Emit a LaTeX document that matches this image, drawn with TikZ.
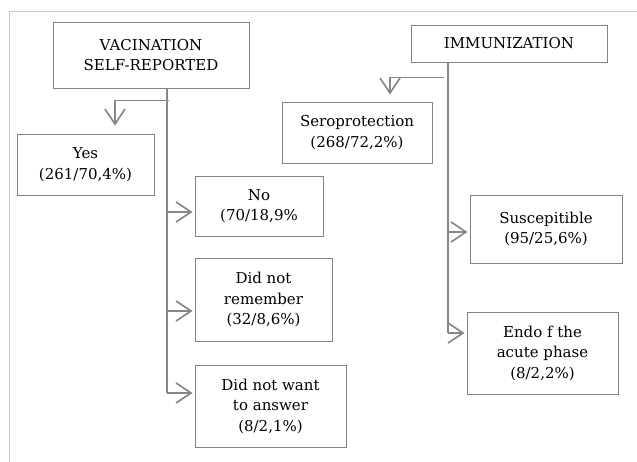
\documentclass[tikz,border=0pt]{standalone}
\usepackage{fontspec}
\setmainfont{DejaVu Serif}
\usepackage{tikz}
\usetikzlibrary{positioning,arrows.meta}

\definecolor{boxgray}{HTML}{828282}
\definecolor{linegray}{HTML}{878787}
\definecolor{framegray}{HTML}{C8C8C8}

\begin{document}
\begin{tikzpicture}[
  x=1pt, y=-1pt,
  box/.style={draw=boxgray, line width=0.8pt, align=center, inner sep=2pt, font=\fontsize{15}{20.5}\selectfont},
  conn/.style={draw=linegray, line width=1.7pt},
  arr/.style={conn, -{Straight Barb[length=15pt, width=20pt, line width=1.7pt]}, shorten >=2pt},
  frame/.style={draw=framegray, line width=1pt},
]
\useasboundingbox (0,0) rectangle (637,462);

% Page frame
\draw[frame] (9,462) -- (9,12) -- (637,12);

% Headers
\node[box, minimum width=196pt, minimum height=66pt] (vac) at (151,55) {VACINATION\\SELF-REPORTED};
\node[box, minimum width=196pt, minimum height=37pt] (imm) at (509,43.5) {IMMUNIZATION};

% Self-reported answers
\node[box, minimum width=137pt, minimum height=61pt] (yes) at (85.5,164.5) {Yes\\(261/70,4\%)};
\node[box, minimum width=128pt, minimum height=60pt] (no) at (259,206) {No\\(70/18,9\%};
\node[box, minimum width=137pt, minimum height=83pt] (rem) at (263.5,299.5) {Did not\\remember\\(32/8,6\%)};
\node[box, minimum width=151pt, minimum height=82pt] (want) at (270.5,406) {Did not want\\to answer\\(8/2,1\%)};

% Immunization results
\node[box, minimum width=150pt, minimum height=61pt] (sero) at (357,132.5) {Seroprotection\\(268/72,2\%)};
\node[box, minimum width=152pt, minimum height=68pt] (susc) at (546,229) {Suscepitible\\(95/25,6\%)};
\node[box, minimum width=151pt, minimum height=82pt] (endo) at (542.5,353) {Endo f the\\acute phase\\(8/2,2\%)};

% Left tree
\coordinate (vtop) at ([xshift=16pt]vac.south);
\coordinate (vbend) at ([xshift=18pt, yshift=-12pt]vac.south);
\coordinate (yesin) at ([xshift=29.5pt, yshift=6pt]yes.north);
\draw[conn] (vtop) -- ([yshift=13pt]vtop |- want.west);
\draw[arr] (vbend) -| (yesin);
\draw[arr] ([yshift=-6pt]vtop |- no.west) -- ([yshift=-6pt]no.west);
\draw[arr] ([yshift=-11.5pt]vtop |- rem.west) -- ([yshift=-11.5pt]rem.west);
\draw[arr] ([yshift=13pt]vtop |- want.west) -- ([yshift=13pt]want.west);

% Right tree
\coordinate (itop) at ([xshift=-61pt]imm.south);
\coordinate (ibend) at ([xshift=-65pt, yshift=-15pt]imm.south);
\coordinate (seroin) at ([xshift=33pt, yshift=5pt]sero.north);
\draw[conn] (itop) -- ([yshift=20pt]itop |- endo.west);
\draw[arr] (ibend) -| (seroin);
\draw[arr] ([yshift=-3pt]itop |- susc.west) -- ([yshift=-3pt]susc.west);
\draw[arr] ([yshift=20pt]itop |- endo.west) -- ([yshift=20pt]endo.west);

\end{tikzpicture}
\end{document}
